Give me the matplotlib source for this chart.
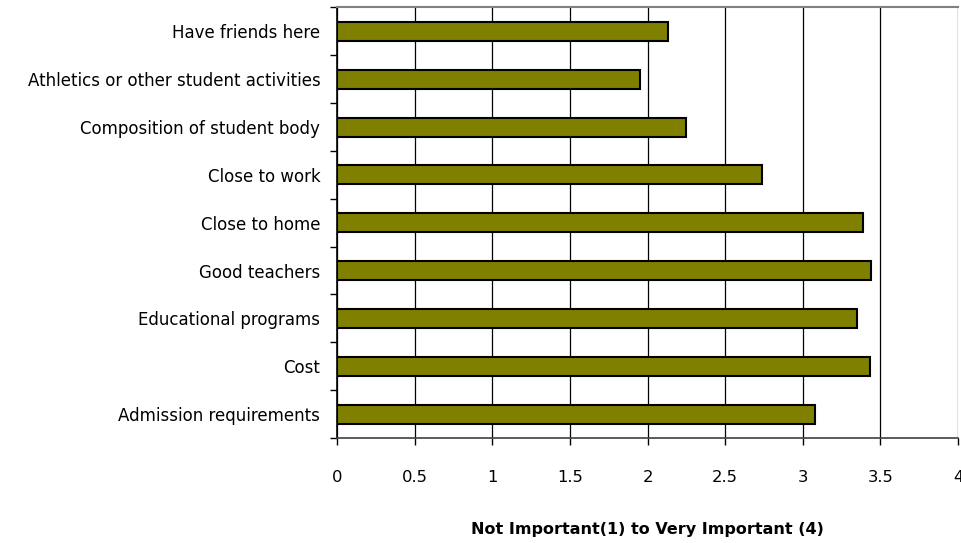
import matplotlib.pyplot as plt
import numpy as np

# Reasons, listed bottom to top
reasons = ["Admission requirements", "Cost", "Educational programs", "Good teachers",
           "Close to home", "Close to work", "Composition of student body",
           "Athletics or other student activities", "Have friends here"]

# Mean importance rating (1-4)
scores = [3.08, 3.43, 3.35, 3.44, 3.39, 2.74, 2.25, 1.95, 2.13]

x_ticks = [0, 0.5, 1, 1.5, 2, 2.5, 3, 3.5, 4]
x_tick_labels = ["0", "0.5", "1", "1.5", "2", "2.5", "3", "3.5", "4"]

plt.rcParams['font.family'] = ['DejaVu Sans']

fig = plt.figure(figsize=(9.61, 5.43), dpi=100)
ax = fig.add_axes([0.3507, 0.1934, 0.6462, 0.7928])

pos = np.arange(len(reasons))
ax.barh(pos, scores, height=0.4, color="#808000", edgecolor="black", linewidth=1.5, zorder=3)

ax.set_xlim(0, 4)
ax.set_ylim(-0.5, len(reasons) - 0.5)

# labels at category centres, ticks at category boundaries
ax.set_yticks(pos)
ax.set_yticklabels(reasons, fontsize=12)
ax.tick_params(axis='y', which='major', length=0, pad=12)
ax.set_yticks(np.arange(-0.5, len(reasons)), minor=True)
ax.tick_params(axis='y', which='minor', length=5, width=1, color="black")

ax.set_xticks(x_ticks)
ax.set_xticklabels(x_tick_labels, fontsize=11.8)
ax.tick_params(axis='x', length=5, width=1, pad=18)

ax.xaxis.grid(True, color="black", linewidth=0.9, zorder=0)
ax.set_axisbelow(True)

ax.spines['top'].set_color("#808080")
ax.spines['top'].set_linewidth(1.5)
ax.spines['right'].set_visible(False)
ax.spines['left'].set_linewidth(1.2)
ax.spines['bottom'].set_color("#404040")
ax.spines['bottom'].set_linewidth(1.2)

ax.set_xlabel("Not Important(1) to Very Important (4)", fontsize=11.5,
              fontweight='bold', labelpad=27)

fig.savefig("out.png", dpi=100)
